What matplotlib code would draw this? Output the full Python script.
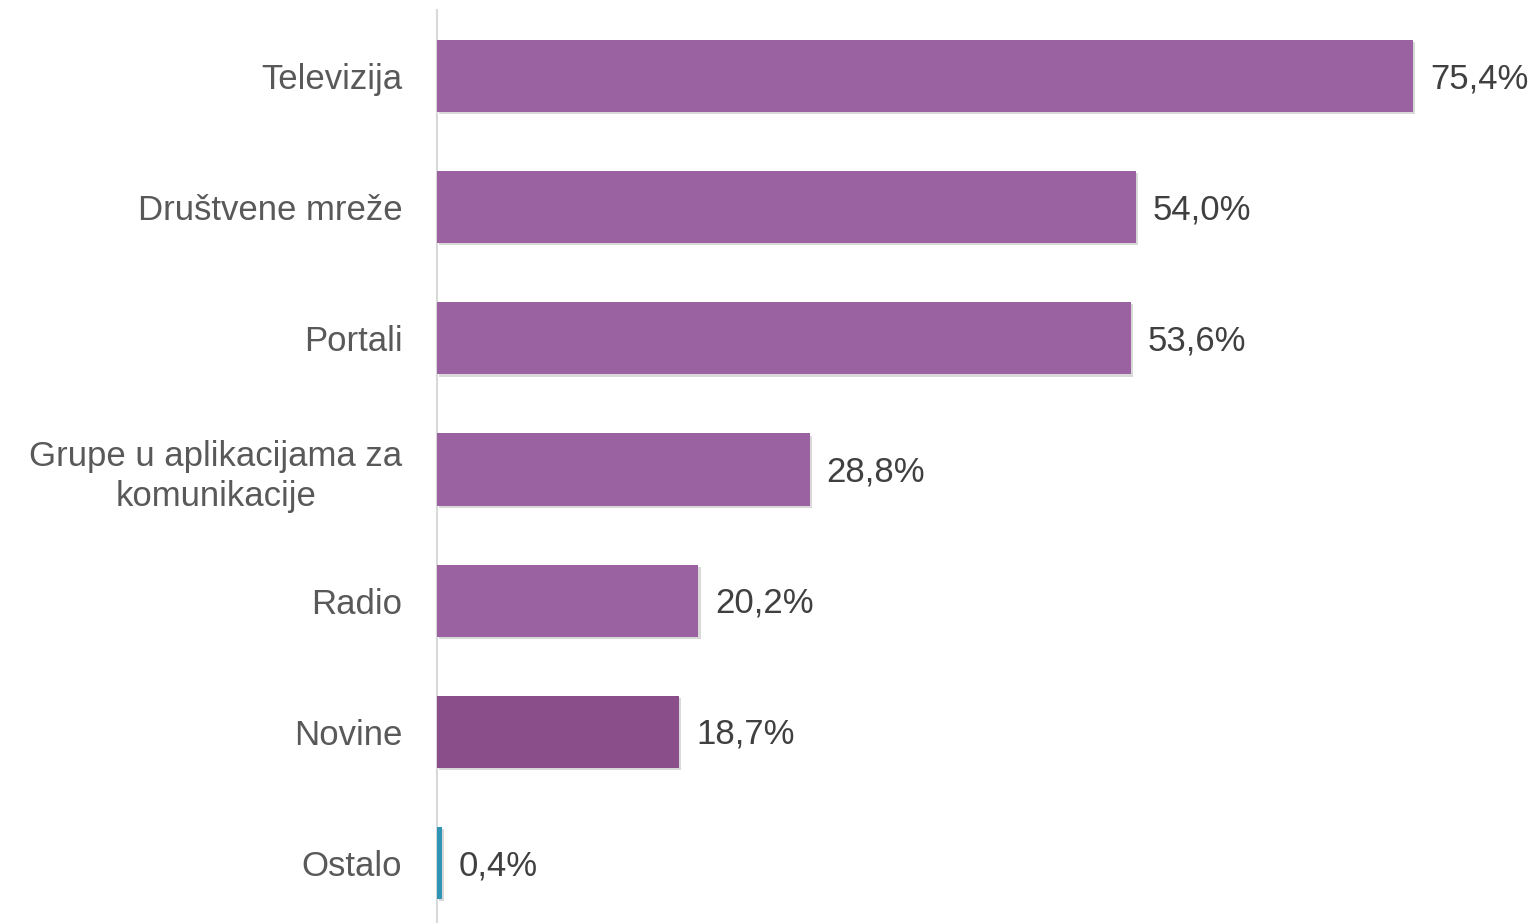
import numpy as np
import matplotlib
matplotlib.use("Agg")
import matplotlib.pyplot as plt
import matplotlib.patheffects as pe

categories = ["Televizija", "Društvene mreže", "Portali",
              "Grupe u aplikacijama za\nkomunikacije", "Radio", "Novine", "Ostalo"]
values = [75.4, 54.0, 53.6, 28.8, 20.2, 18.7, 0.4]
labels = ["75,4%", "54,0%", "53,6%", "28,8%", "20,2%", "18,7%", "0,4%"]
colors = ["#9B62A2", "#9B62A2", "#9B62A2", "#9B62A2", "#9B62A2", "#8A4F8A", "#2E96B4"]

plt.rcParams['font.family'] = ['Liberation Sans', 'DejaVu Sans']

fig = plt.figure(figsize=(15.36, 9.23), dpi=100)
ax = fig.add_axes([437 / 1536, 0, 1 - 437 / 1536, 1 - 10 / 923])

y = np.arange(len(categories))
bars = ax.barh(y, values, height=0.55, color=colors, zorder=3)
for b in bars:
    b.set_path_effects([pe.SimplePatchShadow(offset=(1.5, -1.5), alpha=0.15, shadow_rgbFace="black"),
                        pe.Normal()])

for yi, v, lab in zip(y, values, labels):
    ax.text(v + 1.3, yi + 0.02, lab, va="center", ha="left", fontsize=25, color="#404040")

ax.set_xlim(0, 84.9)
ax.set_ylim(6.458, -0.504)
ax.set_yticks(y)
ax.set_yticklabels(categories, fontsize=25, color="#595959", linespacing=1.25)
for t in ax.get_yticklabels():
    t.set_multialignment("center")
ax.tick_params(axis="y", length=0, pad=25)
ax.set_xticks([])
for s in ["top", "right", "bottom"]:
    ax.spines[s].set_visible(False)
ax.spines["left"].set_color("#D9D9D9")
ax.spines["left"].set_linewidth(1.5)

fig.savefig("out.png", dpi=100)
